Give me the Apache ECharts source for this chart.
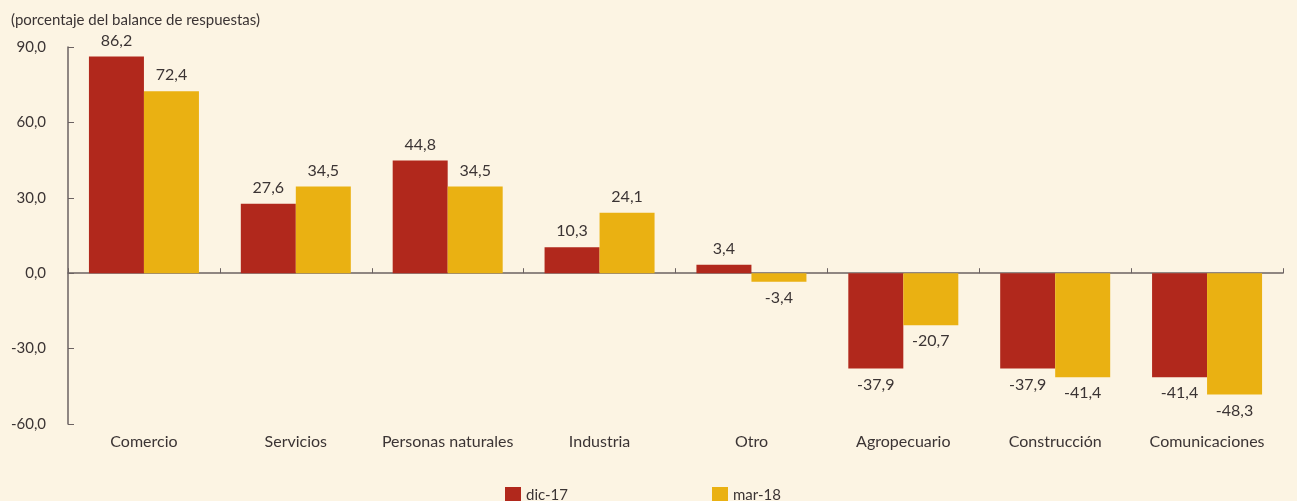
<!DOCTYPE html>
<html>
<head>
<meta charset="utf-8">
<script src="https://cdn.jsdelivr.net/npm/echarts@6/dist/echarts.min.js"></script>
<style>
  html, body { margin: 0; padding: 0; background: #fcf4e3; }
  #chart { width: 1297px; height: 501px; }
</style>
</head>
<body>
<div id="chart"></div>
<script>
var categories = ['Comercio', 'Servicios', 'Personas naturales', 'Industria', 'Otro', 'Agropecuario', 'Construcción', 'Comunicaciones'];
var dic17 = [86.2, 27.6, 44.8, 10.3, 3.4, -37.9, -37.9, -41.4];
var mar18 = [72.4, 34.5, 34.5, 24.1, -3.4, -20.7, -41.4, -48.3];
var seriesNames = ['dic-17', 'mar-18'];

var txt = '#3b3434';
var font = 'Lato, "Open Sans", sans-serif';

function fmt(v) {
    return v.toFixed(1).replace('.', ',');
}

function barLabel(p) {
    return fmt(p.value);
}

function makeSeries(name, data, color) {
    return {
        name: name,
        type: 'bar',
        barWidth: 55,
        barGap: 0,
        itemStyle: { color: color },
        // etiquetas arriba para positivos, abajo para negativos
        data: data.map(function(v) {
            return {
                value: v,
                label: { position: v >= 0 ? 'top' : 'bottom' }
            };
        }),
        label: {
            show: true,
            distance: 8,
            formatter: barLabel,
            color: txt,
            fontSize: 16,
            fontFamily: font
        }
    };
}

var myChart = echarts.init(document.getElementById('chart'));
var option = {
    backgroundColor: '#fcf4e3',
    animation: false,
    title: {
        text: '(porcentaje del balance de respuestas)',
        left: 6,
        top: 8,
        textStyle: { color: txt, fontSize: 15, fontWeight: 'normal', fontFamily: font }
    },
    legend: {
        top: 482,
        left: 500,
        itemWidth: 16,
        itemHeight: 16,
        itemGap: 144,
        icon: 'rect',
        textStyle: { color: txt, fontSize: 15, fontFamily: font },
        data: seriesNames
    },
    grid: { left: 68, right: 14, top: 47, bottom: 77, containLabel: false, outerBoundsMode: 'none' },
    xAxis: {
        type: 'category',
        data: categories,
        axisLine: { onZero: true, lineStyle: { color: '#6b6262', width: 1.5 } },
        axisTick: { show: true, inside: true, length: 5, lineStyle: { color: '#6b6262' } },
        axisLabel: { margin: 10, color: txt, fontSize: 16, fontFamily: font, interval: 0 }
    },
    yAxis: {
        type: 'value',
        min: -60,
        max: 90,
        interval: 30,
        splitLine: { show: false },
        axisLine: { show: true, lineStyle: { color: '#6b6262', width: 1.5 } },
        axisTick: { show: true, inside: true, length: 6, lineStyle: { color: '#6b6262' } },
        axisLabel: { color: txt, fontSize: 15, fontFamily: font, margin: 22, formatter: fmt }
    },
    series: [
        makeSeries(seriesNames[0], dic17, '#b1281c'),
        makeSeries(seriesNames[1], mar18, '#eab112')
    ]
};
myChart.setOption(option);
</script>
</body>
</html>
